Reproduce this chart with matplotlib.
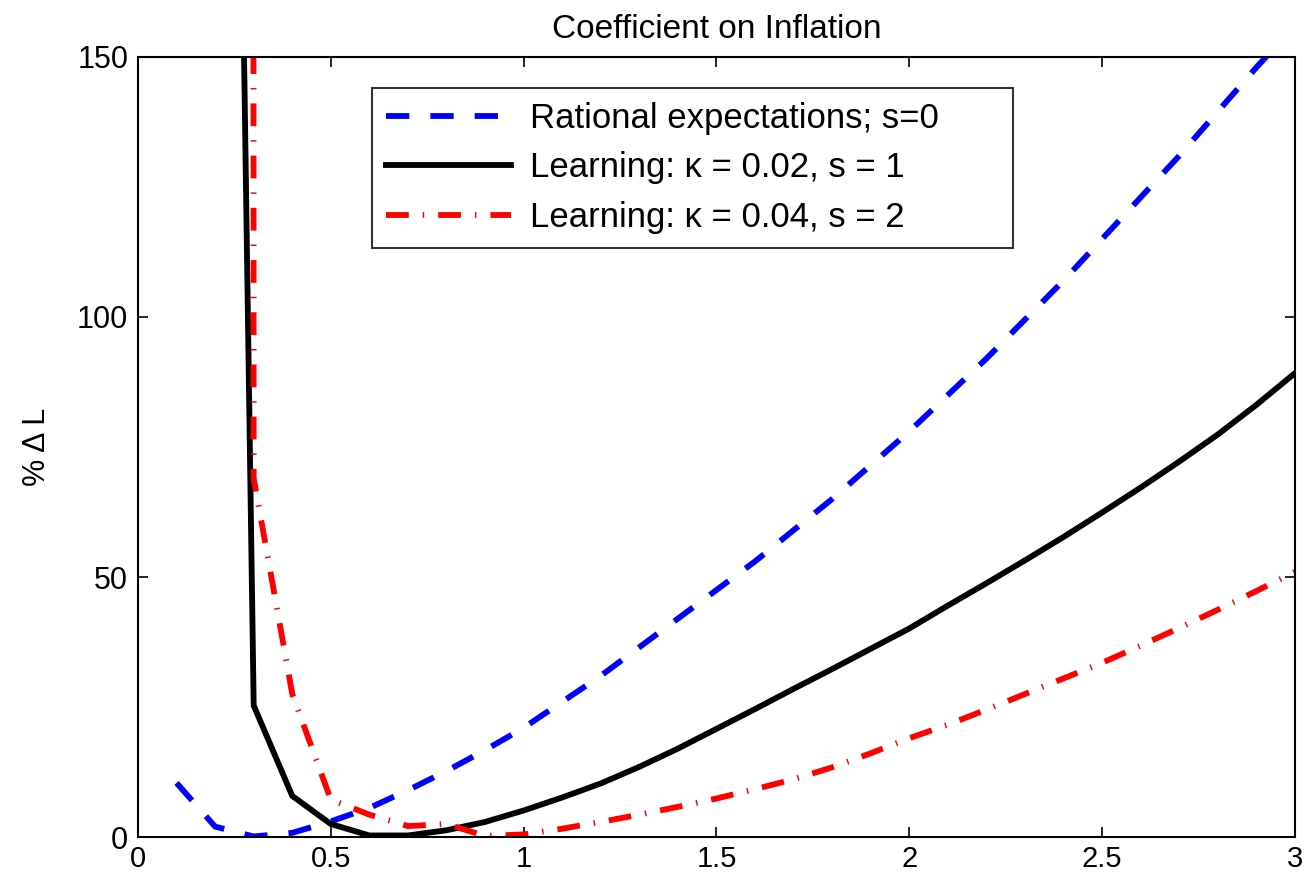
import matplotlib
matplotlib.use("Agg")
import matplotlib.pyplot as plt

plt.rcParams['font.family'] = ['Liberation Sans', 'DejaVu Sans']

# coefficient on inflation
x = [0.1, 0.2, 0.3, 0.4, 0.5, 0.6, 0.7, 0.8, 0.9, 1.0,
     1.1, 1.2, 1.3, 1.4, 1.5, 1.6, 1.7, 1.8, 1.9, 2.0,
     2.1, 2.2, 2.3, 2.4, 2.5, 2.6, 2.7, 2.8, 2.9, 3.0]

# rational expectations, s=0
re_s0 = [10.4, 2.0, 0.1, 0.8, 3.0, 5.6, 9.0, 12.7, 16.7, 21.0,
         26.0, 31.0, 36.5, 42.0, 47.5, 53.0, 59.0, 65.0, 71.5, 78.0,
         85.0, 92.0, 99.5, 107.0, 115.0, 123.0, 131.0, 139.5, 148.0, 156.0]

# learning, kappa=0.02, s=1 (starts at 0.2)
x_learn = x[1:]
learn_s1 = [525.0, 25.3, 7.9, 2.5, 0.3, 0.3, 1.3, 2.9, 5.1,
            7.6, 10.3, 13.5, 17.0, 20.8, 24.6, 28.5, 32.3, 36.2, 40.1,
            44.5, 48.8, 53.2, 57.7, 62.4, 67.2, 72.2, 77.4, 83.1, 89.2]

# learning, kappa=0.04, s=2
learn_s2 = [16000.0, 69.0, 27.5, 7.2, 4.3, 2.1, 2.5, 0.2, 0.5,
            1.6, 2.9, 4.3, 5.8, 7.4, 9.2, 11.1, 13.4, 16.1, 19.0,
            21.6, 24.5, 27.5, 30.5, 33.5, 36.8, 40.2, 43.7, 47.3, 51.0]

labels = ['Rational expectations; s=0',
          'Learning: \u03ba = 0.02, s = 1',
          'Learning: \u03ba = 0.04, s = 2']

fig = plt.figure(figsize=(13.08, 8.82), dpi=100)
ax = fig.add_axes([0.1055, 0.051, 0.8845, 0.8844])

lw = 4.2
ax.plot(x, re_s0, color='#0000ff', lw=lw, dashes=(4.0, 3.6),
        dash_capstyle='butt', label=labels[0])
ax.plot(x_learn, learn_s1, color='black', lw=lw, solid_joinstyle='miter',
        label=labels[1])
ax.plot(x_learn, learn_s2, color='#ff0000', lw=lw, dashes=(3.9, 2.4, 0.25, 2.4),
        dash_capstyle='butt', label=labels[2])

ax.set_xlim(0, 3)
ax.set_ylim(0, 150)
ax.set_xticks([0, 0.5, 1, 1.5, 2, 2.5, 3])
ax.set_xticklabels(['0', '0.5', '1', '1.5', '2', '2.5', '3'])
ax.set_yticks([0, 50, 100, 150])

ax.tick_params(direction='in', length=7, width=1.2, top=True, right=True,
               labelsize=22)
ax.tick_params(axis='x', pad=6, labelsize=21)
ax.tick_params(axis='y', pad=7)
for sp in ax.spines.values():
    sp.set_linewidth(1.5)

ax.set_title('Coefficient on Inflation', fontsize=24, pad=14)
ax.set_ylabel('% \u0394 L', fontsize=22, labelpad=18)

leg = ax.legend(loc='upper left', bbox_to_anchor=(0.202, 0.5, 0.554, 0.46),
                mode='expand', fontsize=25,
                frameon=True, fancybox=False, edgecolor='black',
                handlelength=3.6, handletextpad=0.55, labelspacing=0.47,
                borderpad=0.4, borderaxespad=0)
leg.get_frame().set_linewidth(1.5)

fig.savefig('out.png', dpi=100)
